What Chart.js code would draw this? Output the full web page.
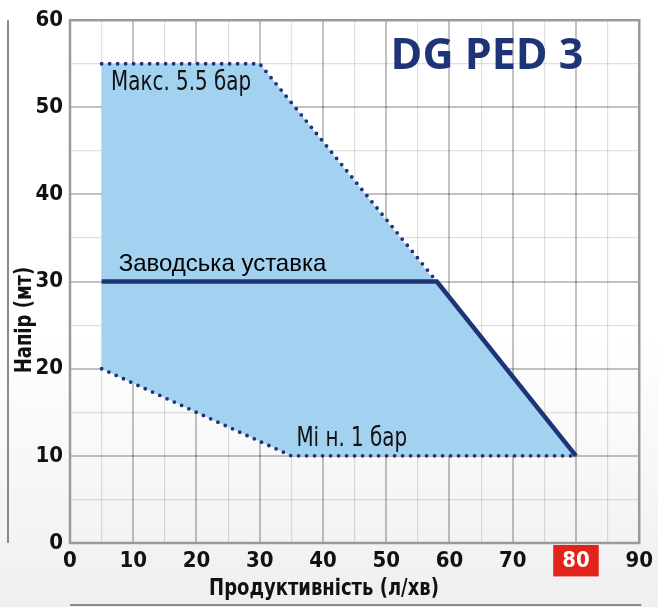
<!DOCTYPE html>
<html>
<head>
<meta charset="utf-8">
<script src="https://cdn.jsdelivr.net/npm/chart.js@4/dist/chart.umd.min.js"></script>
<style>
  html, body { margin: 0; padding: 0; }
  body {
    width: 658px; height: 607px;
    background: linear-gradient(#ffffff 0%, #ffffff 55%, #efefef 100%);
  }
  #wrap { position: relative; width: 658px; height: 607px; }
</style>
</head>
<body>
<div id="wrap"><canvas id="pumpChart" width="658" height="607"></canvas></div>
<script>
// working zone of the pump (closed outline)
const zoneX = [5, 30, 80, 35, 5, 5];
const zoneY = [55, 55, 10, 10, 20, 55];

// dotted limits
const maxX = [5, 30, 58];
const maxY = [55, 55, 30];
const minX = [5, 35, 80];
const minY = [20, 10, 10];

// factory setting curve
const setX = [5, 58, 80];
const setY = [30, 30, 10];

const xMax = 90;
const yMax = 60;
const highlightTick = 80;

const NAVY = '#1f3476';
const narrow = '"Liberation Sans Narrow", "DejaVu Sans Condensed", sans-serif';

function pts(xs, ys) {
    return xs.map((x, i) => ({ x: x, y: ys[i] }));
}

// major lines every 10, lighter ones in between
function gridColor(ctx) {
    return ctx.tick && ctx.tick.value % 10 === 0 ? 'rgba(0,0,0,0.24)' : 'rgba(0,0,0,0.12)';
}
function gridWidth(ctx) {
    return ctx.tick && ctx.tick.value % 10 === 0 ? 2 : 1.2;
}

// squeezed text, the original uses a tall condensed face
function narrowText(c, text, x, y, sx, rot) {
    c.save();
    c.translate(x, y);
    if (rot) c.rotate(rot);
    c.scale(sx, 1);
    c.fillText(text, 0, 0);
    c.restore();
}

// texts, axis titles, plot frame and the little decor lines
const decorPlugin = {
    id: 'decor',
    afterDraw(chart) {
        const c = chart.ctx;
        const a = chart.chartArea;
        const xs = chart.scales.x;
        const ys = chart.scales.y;
        c.save();

        c.strokeStyle = '#9a9a9a';
        c.lineWidth = 2.5;
        c.strokeRect(a.left, a.top, a.right - a.left, a.bottom - a.top);

        c.strokeStyle = '#8a8a8a';
        c.lineWidth = 2;
        c.beginPath();
        c.moveTo(8, a.top);
        c.lineTo(8, a.bottom);
        c.moveTo(a.left, 605);
        c.lineTo(a.right + 2, 605);
        c.stroke();

        // axis titles sit off-centre in the original
        c.fillStyle = '#111';
        c.font = 'bold 23px ' + narrow;
        c.textAlign = 'center';
        c.textBaseline = 'middle';
        narrowText(c, 'Продуктивність (л/хв)', 324, 589, 0.87);
        narrowText(c, 'Напір (мт)', 25, 320, 0.87, -Math.PI / 2);

        c.fillStyle = NAVY;
        c.font = 'bold 43px "Open Sans", sans-serif';
        c.fillText('DG PED 3', 487, 57);

        c.fillStyle = '#111';
        c.textAlign = 'left';
        c.font = '26px ' + narrow;
        narrowText(c, 'Макс. 5.5 бар', xs.getPixelForValue(6.5), ys.getPixelForValue(52.8), 0.85);
        narrowText(c, 'Мі н. 1 бар', xs.getPixelForValue(35.8), ys.getPixelForValue(11.9), 0.85);

        c.fillStyle = '#000';
        c.font = '24px "Liberation Sans", Arial, sans-serif';
        c.textBaseline = 'alphabetic';
        c.fillText('Заводська уставка', xs.getPixelForValue(7.7), ys.getPixelForValue(31.2));

        c.restore();
    }
};

const ctx = document.getElementById('pumpChart').getContext('2d');
new Chart(ctx, {
    type: 'scatter',
    data: {
        datasets: [
            {
                data: pts(maxX, maxY),
                showLine: true,
                borderColor: NAVY,
                borderWidth: 3.8,
                borderDash: [0, 8],
                borderCapStyle: 'round',
                pointRadius: 0
            },
            {
                data: pts(minX, minY),
                showLine: true,
                borderColor: NAVY,
                borderWidth: 3.8,
                borderDash: [0, 8],
                borderCapStyle: 'round',
                pointRadius: 0
            },
            {
                data: pts(setX, setY),
                showLine: true,
                borderColor: NAVY,
                borderWidth: 4.5,
                pointRadius: 0
            },
            {
                // shaded zone, drawn underneath the lines
                data: pts(zoneX, zoneY),
                order: 1,
                showLine: true,
                fill: 'shape',
                backgroundColor: '#a2d2f0',
                borderWidth: 0,
                pointRadius: 0,
                tension: 0
            }
        ]
    },
    options: {
        responsive: false,
        animation: false,
        layout: { padding: { top: 14, right: 15, left: 0, bottom: 0 } },
        plugins: {
            legend: { display: false },
            tooltip: { enabled: false }
        },
        scales: {
            x: {
                type: 'linear',
                min: 0,
                max: xMax,
                z: 1,
                border: { display: false },
                grid: { color: gridColor, lineWidth: gridWidth, drawTicks: false },
                ticks: {
                    stepSize: 5,
                    autoSkip: false,
                    maxRotation: 0,
                    padding: 5,
                    color: (c) => c.tick && c.tick.value === highlightTick ? '#fff' : '#111',
                    font: { family: narrow, weight: 'bold', size: 22 },
                    showLabelBackdrop: (c) => c.tick && c.tick.value === highlightTick,
                    backdropColor: '#e2231a',
                    backdropPadding: { left: 9, right: 9, top: 3, bottom: 2 },
                    callback: (v) => v % 10 === 0 ? String(v) : ''
                },
                title: { display: false },
                afterFit: (s) => { s.height = 64; }
            },
            y: {
                min: 0,
                max: yMax,
                z: 1,
                border: { display: false },
                grid: { color: gridColor, lineWidth: gridWidth, drawTicks: false },
                ticks: {
                    stepSize: 5,
                    autoSkip: false,
                    padding: 7,
                    color: '#111',
                    font: { family: narrow, weight: 'bold', size: 22 },
                    callback: (v) => v % 10 === 0 ? String(v) : ''
                },
                title: { display: false },
                afterFit: (s) => { s.width = 70; }
            }
        }
    },
    plugins: [decorPlugin]
});
</script>
</body>
</html>
